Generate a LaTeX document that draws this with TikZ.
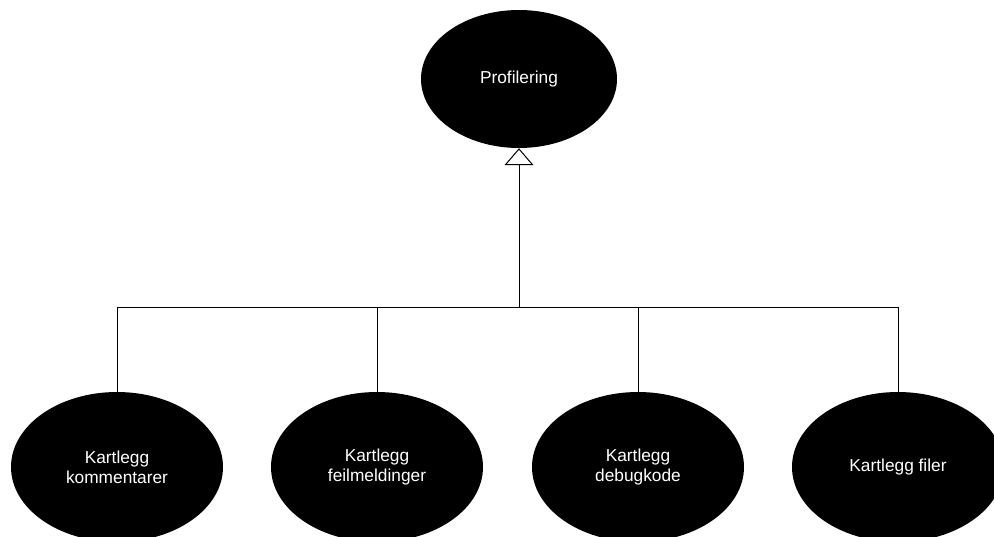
\documentclass[tikz,border=0pt]{standalone}
\usepackage{fontspec}
\setmainfont{Liberation Sans}
\usetikzlibrary{arrows.meta,shapes.geometric}
\begin{document}
\begin{tikzpicture}[x=1pt,y=-1pt,
  usecase/.style={ellipse, fill=black, draw=none, inner sep=0pt, text=white,
    align=center, font=\fontsize{17.3}{20}\selectfont},
  parent/.style={usecase, minimum width=196pt, minimum height=138pt},
  child/.style={usecase, minimum width=212pt, minimum height=150pt},
  link/.style={draw=black, line width=1pt},
  general/.style={link, -{Triangle[open, length=17pt, width=29pt, line width=1pt]}}]
\useasboundingbox (0,0) rectangle (994,536);

\node[parent] (root) at (519,79) {Profilering};

\node[child] (k1) at (117,467) {Kartlegg\\kommentarer};
\node[child] (k2) at (377,467) {Kartlegg\\feilmeldinger};
\node[child] (k3) at (638,467) {Kartlegg\\debugkode};
\node[child] (k4) at (898,467) {Kartlegg filer};

\coordinate (bus) at (519,307);

% generalisation tree
\draw[link] (k1.north) |- (bus);
\draw[link] (k2.north) |- (bus);
\draw[link] (k3.north) |- (bus);
\draw[link] (k4.north) |- (bus);
\draw[general] (bus) -- (root.south);
\end{tikzpicture}
\end{document}
